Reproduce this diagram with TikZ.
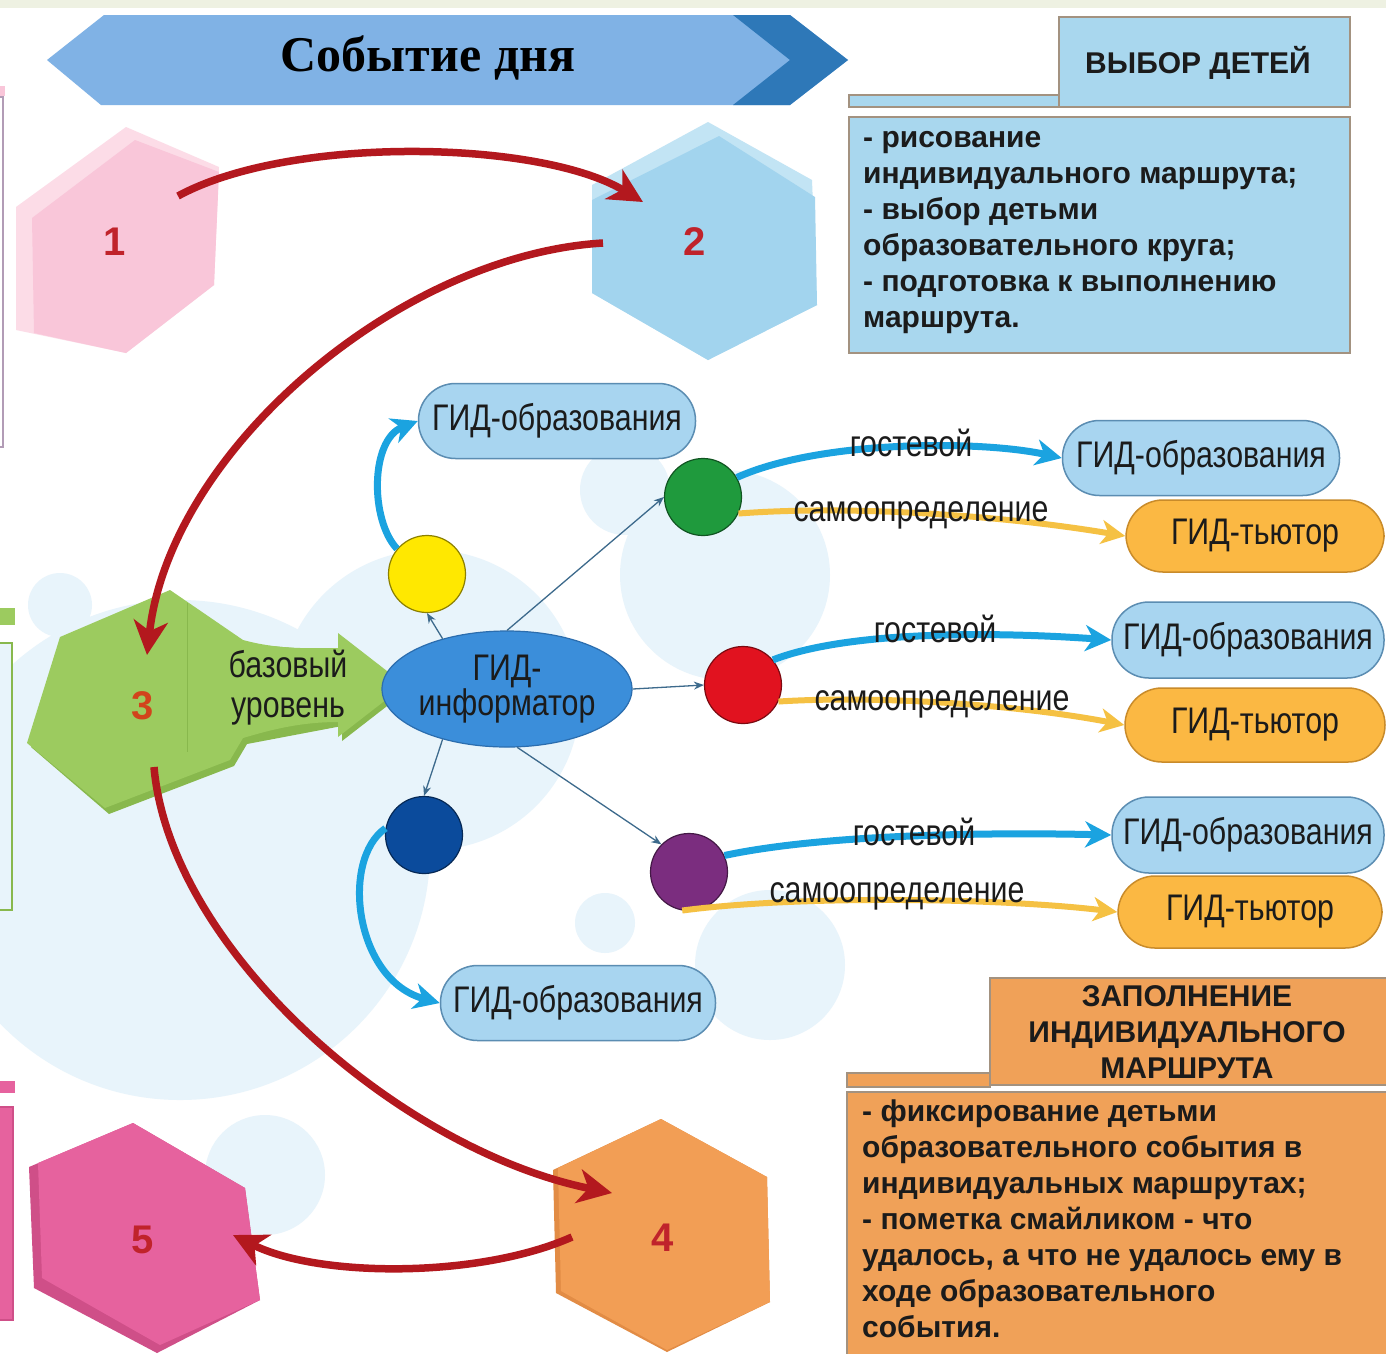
\documentclass[tikz,border=0pt]{standalone}
\usepackage{fontspec}
\setmainfont{Liberation Sans}
\newfontfamily\narrowfont[FakeStretch=0.82]{Liberation Sans}
\newfontfamily\titlefont{Liberation Serif}
\usetikzlibrary{arrows.meta,shapes.geometric}

\definecolor{topstrip}{HTML}{EEF1E2}
\definecolor{paleblue}{HTML}{E8F4FB}
\definecolor{bannerlight}{HTML}{80B2E5}
\definecolor{bannerdark}{HTML}{2E78B8}
\definecolor{hexpink}{HTML}{F9C6D9}
\definecolor{hexpinklight}{HTML}{FCDCE7}
\definecolor{hexblue}{HTML}{A2D4EE}
\definecolor{hexbluelight}{HTML}{C2E4F4}
\definecolor{hexgreen}{HTML}{9CCB5F}
\definecolor{hexgreendark}{HTML}{88B84D}
\definecolor{hexorange}{HTML}{F29E55}
\definecolor{hexorangedark}{HTML}{E28C45}
\definecolor{hexmagenta}{HTML}{E6629E}
\definecolor{hexmagentadark}{HTML}{CF4F88}
\definecolor{leftlav}{HTML}{B29CB6}
\definecolor{digitred}{HTML}{C0232B}
\definecolor{digitorange}{HTML}{D2431C}
\definecolor{arrowred}{HTML}{B3181E}
\definecolor{arrowblue}{HTML}{1BA3E0}
\definecolor{arroworange}{HTML}{F5C143}
\definecolor{thinline}{HTML}{3D6A8C}
\definecolor{guidefill}{HTML}{A8D5F0}
\definecolor{guideedge}{HTML}{5B8DB2}
\definecolor{tutorfill}{HTML}{FBB843}
\definecolor{tutoredge}{HTML}{C98B2A}
\definecolor{infofill}{HTML}{3B8EDA}
\definecolor{infoedge}{HTML}{2B6DAE}
\definecolor{dotyellow}{HTML}{FFE800}
\definecolor{dotgreen}{HTML}{1F9A3D}
\definecolor{dotred}{HTML}{E1121F}
\definecolor{dotnavy}{HTML}{0B4B9C}
\definecolor{dotpurple}{HTML}{7B2D7F}
\definecolor{boxblue}{HTML}{A9D7EE}
\definecolor{boxorange}{HTML}{F0A158}
\definecolor{boxedge}{HTML}{A39280}
\definecolor{textdark}{HTML}{1B1B1B}

\tikzset{
  redarrow/.style={line width=7.5pt, draw=arrowred, -{Stealth[length=34pt,width=34pt,inset=10pt]}},
  bluearrow/.style={line width=7pt, draw=arrowblue, -{Stealth[length=26pt,width=26pt,inset=8pt]}},
  yellowarrow/.style={line width=6pt, draw=arroworange, -{Stealth[length=24pt,width=24pt,inset=7pt]}},
  thinarrow/.style={line width=1.3pt, draw=thinline, -{Stealth[length=10pt,width=8pt]}},
  guide/.style={draw=guideedge, line width=1.5pt, fill=guidefill, rounded corners=37pt,
    minimum height=75pt, inner sep=0pt, text=textdark, font=\narrowfont\fontsize{37}{40}\selectfont},
  tutor/.style={guide, draw=tutoredge, fill=tutorfill},
  guidedot/.style={circle, draw=#1!55!black, line width=1.2pt, fill=#1, minimum size=77pt, inner sep=0pt},
  digit/.style={font=\bfseries\fontsize{40}{40}\selectfont, text=digitred, inner sep=0pt},
  way/.style={font=\narrowfont\fontsize{37}{40}\selectfont, text=textdark, inner sep=0pt},
  panel/.style={draw=boxedge, line width=2pt},
  paneltext/.style={font=\bfseries\fontsize{30}{36}\selectfont, text=textdark, inner sep=0pt},
}

\begin{document}
\begin{tikzpicture}[x=1pt,y=-1pt]
\useasboundingbox (0,0) rectangle (1386,1353);
\clip (0,0) rectangle (1386,1353);

% background
\fill[white] (0,0) rectangle (1386,1353);
\fill[topstrip] (0,0) rectangle (1386,8);
\foreach \cx/\cy/\r in {180/850/250, 430/700/150, 725/575/105, 625/490/45,
    605/923/30, 770/965/75, 265/1175/60, 60/605/32}
  \fill[paleblue] (\cx,\cy) circle[radius=\r];

% cut boxes on the left edge
\fill[hexpink] (0,86) rectangle (5,96);
\draw[leftlav, line width=1.5pt] (-3,97) rectangle (3,447);
\fill[hexgreen] (0,608) rectangle (15,625);
\draw[hexgreendark, line width=1.5pt, fill=paleblue] (-3,643) rectangle (12,910);
\fill[hexmagenta] (0,1081) rectangle (15,1093);
\draw[hexmagentadark, line width=1.5pt, fill=hexmagenta] (-3,1107) rectangle (13,1320);

% title banner
\fill[bannerlight] (47,60) -- (104,15) -- (790,15) -- (848,60) -- (790,105) -- (101,105) -- cycle;
\fill[bannerdark] (733,15) -- (790,15) -- (848,60) -- (790,105) -- (733,105) -- (790,60) -- cycle;
\node[inner sep=0pt] (title) at (428,58) {\titlefont\bfseries\fontsize{50}{50}\selectfont Событие дня};

% hexagons
\fill[hexpinklight] (126,127) -- (219,167) -- (214,285) -- (126,353) -- (16,330) -- (16,207) -- cycle;
\fill[hexpink] (135,140) -- (219,172) -- (214,285) -- (126,353) -- (34,333) -- (32,218) -- cycle;
\fill[hexbluelight] (708,122) -- (812,180) -- (817,305) -- (708,360) -- (592,293) -- (592,185) -- cycle;
\fill[hexblue] (719,136) -- (815,197) -- (817,305) -- (708,360) -- (592,293) -- (592,200) -- cycle;
\fill[hexgreendark] (174,594) -- (247,644) -- (342,652) -- (342,637) -- (409,689) -- (342,741)
  -- (342,726) -- (247,744) -- (234,766) -- (109,814) -- (31,747) -- (64,641) -- cycle;
\fill[hexgreen] (170,590) -- (243,640) .. controls (280,650) and (310,648) .. (338,648)
  -- (338,633) -- (405,685) -- (338,737) -- (338,722) .. controls (300,722) and (270,730) .. (243,738)
  -- (230,760) -- (105,808) -- (27,743) -- (60,637) -- cycle;
\draw[hexgreendark, line width=0.8pt] (187,603) -- (187,752);
\fill[hexorangedark] (661,1119) -- (767,1177) -- (770,1302) -- (667,1352) -- (556,1293) -- (553,1170) -- cycle;
\fill[hexorange] (661,1119) -- (767,1177) -- (770,1302) -- (667,1350) -- (561,1291) -- (558,1168) -- cycle;
\fill[hexmagentadark] (133,1123) -- (245,1188) -- (260,1300) -- (157,1353) -- (34,1288) -- (29,1167) -- cycle;
\fill[hexmagenta] (133,1123) -- (245,1188) -- (260,1300) -- (160,1345) -- (42,1278) -- (38,1163) -- cycle;

\node[digit] (n1) at (115,242) {1};
\node[digit] (n2) at (695,242) {2};
\node[digit, text=digitorange] (n3) at (143,706) {3};
\node[digit] (n4) at (663,1238) {4};
\node[digit] (n5) at (143,1240) {5};
\node[way, align=center] (base) at (288,688) {базовый\\уровень};

% red route between the steps
\coordinate (r1s) at (178,196);
\coordinate (r1e) at (643,202);
\coordinate (r2s) at (603,243);
\coordinate (r2e) at (147,655);
\coordinate (r3s) at (154,767);
\coordinate (r3e) at (612,1193);
\coordinate (r4s) at (572,1237);
\coordinate (r4e) at (233,1235);
\draw[redarrow] (r1s) .. controls (290,135) and (540,140) .. (r1e);
\draw[redarrow] (r2s) .. controls (400,255) and (170,450) .. (r2e);
\draw[redarrow] (r3s) .. controls (170,950) and (400,1150) .. (r3e);
\draw[redarrow] (r4s) .. controls (480,1278) and (320,1278) .. (r4e);

% guides
\node[ellipse, minimum width=206pt, minimum height=116pt, fill=infofill, draw=infoedge, line width=1.2pt,
  inner sep=0pt, align=center, text=textdark, font=\narrowfont\fontsize{37}{35}\selectfont]
  (info) at (507,689) {ГИД-\\информатор};
\node[guidedot=dotyellow] (cy) at (427,574) {};
\node[guidedot=dotgreen] (cg) at (703,497) {};
\node[guidedot=dotred] (cr) at (743,685) {};
\node[guidedot=dotnavy] (cn) at (424,835) {};
\node[guidedot=dotpurple] (cp) at (689,872) {};

\node[guide, minimum width=277pt] (g1) at (557,421) {ГИД-образования};
\node[guide, minimum width=275pt] (g2) at (578,1003) {ГИД-образования};
\node[guide, minimum width=277pt] (b1) at (1201,458) {ГИД-образования};
\node[tutor, minimum width=258pt, minimum height=72pt] (t1) at (1255,536) {ГИД-тьютор};
\node[guide, minimum width=272pt, minimum height=76pt] (b2) at (1248,640) {ГИД-образования};
\node[tutor, minimum width=260pt, minimum height=74pt] (t2) at (1255,725) {ГИД-тьютор};
\node[guide, minimum width=272pt, minimum height=76pt] (b3) at (1248,835) {ГИД-образования};
\node[tutor, minimum width=264pt, minimum height=72pt] (t3) at (1250,912) {ГИД-тьютор};

\draw[thinarrow] (info.142) -- (cy.south);
\draw[thinarrow] (info.north) -- (cg.west);
\draw[thinarrow] (info.east) -- (cr.west);
\draw[thinarrow] (info.-142) -- (cn.north);
\draw[thinarrow] (info.-80) -- (cp.135);

\draw[bluearrow] (cy.140) .. controls (370,520) and (370,440) .. (g1.west);
\draw[bluearrow] (cn.170) .. controls (340,860) and (355,980) .. (g2.west);
\draw[bluearrow] (cg.30) .. controls (820,440) and (980,440) .. (b1.west);
\draw[yellowarrow] (cg.-25) .. controls (850,505) and (1000,515) .. (t1.west);
\draw[bluearrow] (cr.40) .. controls (850,630) and (1000,632) .. (b2.west);
\draw[yellowarrow] (cr.-25) .. controls (880,695) and (1020,705) .. (t2.west);
\draw[bluearrow] (cp.25) .. controls (820,835) and (980,832) .. (b3.west);
\draw[yellowarrow] (cp.-100) .. controls (800,895) and (1000,898) .. (t3.west);

\node[way] (w1) at (911,443) {гостевой};
\node[way] (s1) at (921,515) {самоопределение};
\node[way] (w2) at (935,629) {гостевой};
\node[way] (s2) at (942,704) {самоопределение};
\node[way] (w3) at (914,832) {гостевой};
\node[way] (s3) at (897,896) {самоопределение};

% children's choice
\draw[panel, fill=boxblue] (849,95) rectangle (1059,107);
\draw[panel, fill=boxblue] (1059,17) rectangle (1350,107);
\draw[panel, fill=boxblue] (849,117) rectangle (1350,353);
\node[paneltext] (selhead) at (1198,63) {ВЫБОР ДЕТЕЙ};
\node[paneltext, anchor=north west, align=left] (selbody) at (863,131)
  {- рисование\\индивидуального маршрута;\\- выбор детьми\\образовательного круга;\\- подготовка к выполнению\\маршрута.};

% filling in the route
\draw[panel, fill=boxorange] (847,1073) rectangle (990,1087);
\draw[panel, fill=boxorange] (990,978) rectangle (1392,1085);
\draw[panel, fill=boxorange] (847,1092) rectangle (1392,1360);
\node[paneltext, align=center] (fillhead) at (1187,1032)
  {ЗАПОЛНЕНИЕ\\ИНДИВИДУАЛЬНОГО\\МАРШРУТА};
\node[paneltext, anchor=north west, align=left] (fillbody) at (862,1100)
  {- фиксирование детьми\\образовательного события в\\индивидуальных маршрутах;\\- пометка смайликом - что\\удалось, а что не удалось ему в\\ходе образовательного\\события.};
\end{tikzpicture}
\end{document}
